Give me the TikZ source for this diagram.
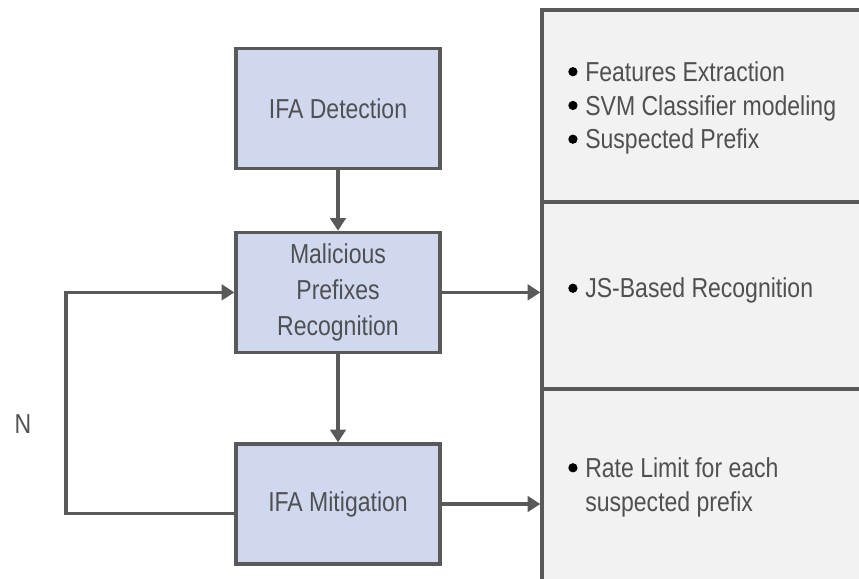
\documentclass[tikz,border=0pt]{standalone}
\usepackage{fontspec}
\setmainfont{Liberation Sans}[FakeStretch=0.84]
\usepackage{xcolor}
\usetikzlibrary{arrows.meta}

\definecolor{linegray}{HTML}{595959}
\definecolor{textgray}{HTML}{505050}
\definecolor{boxblue}{HTML}{D0D8F0}
\definecolor{panelgray}{HTML}{F2F2F2}

\tikzset{
  stage/.style={draw=linegray, line width=2.4pt, fill=boxblue, minimum width=5.1cm,
    minimum height=3cm, align=center, text=textgray, font=\fontsize{19.5}{25.5}\selectfont},
  panel/.style={draw=linegray, line width=2.4pt, fill=panelgray, minimum width=8.45cm,
    inner sep=0pt},
  items/.style={anchor=west, align=left, text=textgray, inner sep=0pt,
    font=\fontsize{19.5}{24}\selectfont},
  arr/.style={draw=linegray, line width=2.4pt, -{Triangle[length=9pt,width=11pt]}}
}
\newcommand{\dotitem}{\raisebox{3.6pt}{\tikz{\fill[black] (0,0) circle (3.3pt);}}}

\begin{document}
\begin{tikzpicture}
\useasboundingbox (0,0) rectangle (21.475,14.45);
\clip (0,0) rectangle (21.475,14.45);

% right panel
\node[panel, minimum height=4.8cm] (sec1) at (17.775,11.8) {};
\node[panel, minimum height=4.675cm] (sec2) at (17.775,7.0625) {};
\node[panel, minimum height=5.225cm] (sec3) at (17.775,2.1125) {};

\node[items] (list1) at (14.2,11.74) {\begin{tabular}{@{}l@{\hspace{5.5pt}}l@{}}
\dotitem & Features Extraction\\
\dotitem & SVM Classifier modeling\\
\dotitem & Suspected Prefix
\end{tabular}};
\node[items] (list2) at (14.2,7.17) {\begin{tabular}{@{}l@{\hspace{5.5pt}}l@{}}
\dotitem & JS-Based Recognition
\end{tabular}};
\node[items] (list3) at (14.2,2.26) {\begin{tabular}{@{}l@{\hspace{5.5pt}}l@{}}
\dotitem & Rate Limit for each\\
 & suspected prefix
\end{tabular}};

% stages
\node[stage] (det) at (8.45,11.74) {IFA Detection};
\node[stage] (mal) at (8.45,7.14) {Malicious\\Prefixes\\Recognition};
\node[stage] (mit) at (8.45,1.85) {IFA Mitigation};

\draw[arr] (det) -- (mal);
\draw[arr] (mal) -- (mit);
\draw[arr] (mal.east) -- (mal.east -| sec2.west);
\draw[arr] (mit.east) -- (mit.east -| sec3.west);

% feedback loop
\coordinate (loop) at (1.65,3.85);
\draw[arr] ([yshift=-0.23cm]mit.west) -| (loop) |- (mal.west);
\node[text=textgray, font=\fontsize{19.5}{22}\selectfont] (nlabel) at (0.575,3.85) {N};
\end{tikzpicture}
\end{document}
